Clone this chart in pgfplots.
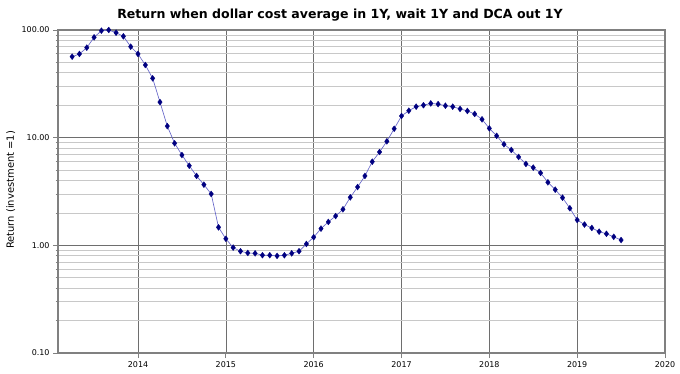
\documentclass[border=0pt]{standalone}
\usepackage{fontspec}
\setmainfont{DejaVu Sans}
\usepackage{pgfplots}
\pgfplotsset{compat=1.18}
\usepackage{pgfplotstable}
\definecolor{mk}{RGB}{0,0,128}
\definecolor{ln}{RGB}{100,100,200}
\definecolor{majg}{RGB}{110,110,110}
\definecolor{ming}{RGB}{200,200,200}
\definecolor{frame}{RGB}{128,128,128}
\pgfplotstableread{
x y
2013.25 56.5
2013.3333 59.9
2013.4167 68.5
2013.5 85.5
2013.5833 98.5
2013.6667 100
2013.75 94.4
2013.8333 87.4
2013.9167 70
2014.0 59.9
2014.0833 47.3
2014.1667 35.6
2014.25 21.4
2014.3333 12.8
2014.4167 8.87
2014.5 6.9
2014.5833 5.49
2014.6667 4.41
2014.75 3.66
2014.8333 3.0
2014.9167 1.47
2015.0 1.15
2015.0833 0.953
2015.1667 0.881
2015.25 0.849
2015.3333 0.843
2015.4167 0.809
2015.5 0.809
2015.5833 0.798
2015.6667 0.809
2015.75 0.843
2015.8333 0.881
2015.9167 1.03
2016.0 1.19
2016.0833 1.43
2016.1667 1.65
2016.25 1.87
2016.3333 2.16
2016.4167 2.79
2016.5 3.48
2016.5833 4.41
2016.6667 5.98
2016.75 7.36
2016.8333 9.25
2016.9167 12.1
2017.0 15.9
2017.0833 17.8
2017.1667 19.4
2017.25 20.0
2017.3333 20.8
2017.4167 20.5
2017.5 19.8
2017.5833 19.4
2017.6667 18.5
2017.75 17.7
2017.8333 16.6
2017.9167 14.8
2018.0 12.2
2018.0833 10.4
2018.1667 8.68
2018.25 7.69
2018.3333 6.62
2018.4167 5.70
2018.5 5.27
2018.5833 4.70
2018.6667 3.85
2018.75 3.29
2018.8333 2.77
2018.9167 2.21
2019.0 1.72
2019.0833 1.56
2019.1667 1.45
2019.25 1.34
2019.3333 1.28
2019.4167 1.20
2019.5 1.12
}\datatable
\begin{document}
\begin{tikzpicture}
\useasboundingbox (-58bp,-21bp) rectangle (622bp,353bp);
\begin{axis}[
  at={(0,0)}, anchor=south west,
  scale only axis, width=607bp, height=323bp,
  ymode=log,
  xmin=2013.089, xmax=2020,
  ymin=0.1, ymax=100,
  xtick={2014,2015,2016,2017,2018,2019,2020},
  xticklabels={2014,2015,2016,2017,2018,2019,2020},
  ytick={0.1,1,10,100},
  yticklabels={0.10,1.00,10.00,100.00},
  minor ytick={0.2,0.3,0.4,0.5,0.6,0.7,0.8,0.9,2,3,4,5,6,7,8,9,20,30,40,50,60,70,80,90},
  xtick pos=bottom, ytick pos=left,
  tick align=outside,
  major tick length=5bp, minor tick length=2.5bp,
  tick style={draw=frame, line width=0.8pt},
  grid=both,
  major grid style={draw=majg, line width=0.6pt},
  minor grid style={draw=ming, line width=0.8pt},
  axis line style={draw=frame, line width=1.3pt},
  ticklabel style={font=\fontsize{8}{9}\selectfont, text=black},
  xticklabel style={yshift=-0.5bp},
  title={\bfseries Return when dollar cost average in 1Y, wait 1Y and DCA out 1Y},
  title style={at={(0.4646,1)}, anchor=base, yshift=6bp, font=\fontsize{12.6}{14}\selectfont},
  ylabel={Return (investment =1)},
  ylabel style={at={(axis description cs:-0.0725,0.505)}, anchor=base, font=\fontsize{10}{12}\selectfont},
  clip=false,
]
\addplot[color=ln, line width=0.65pt, mark=diamond*, mark size=3pt,
  mark options={fill=mk, draw=mk, line width=0.3pt}] table[x=x,y=y] {\datatable};
\end{axis}
\end{tikzpicture}
\end{document}
